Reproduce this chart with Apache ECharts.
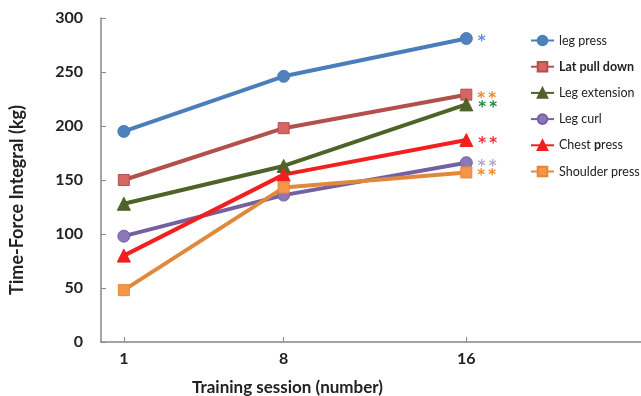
<!DOCTYPE html>
<html>
<head>
<meta charset="utf-8">
<script src="https://cdn.jsdelivr.net/npm/echarts@6/dist/echarts.min.js"></script>
<style>
  html, body { margin: 0; padding: 0; background: #fff; }
  #chart { width: 641px; height: 396px; }
</style>
</head>
<body>
<div id="chart"></div>
<script>
// training sessions on the x axis
var sessions = [1, 8, 16];
var yTicks = [0, 50, 100, 150, 200, 250, 300];

// time-force integral (kg) per exercise
var legPress = [195, 246, 281];
var latPullDown = [150, 198, 229];
var legExtension = [128, 163, 220];
var legCurl = [98, 136, 166];
var chestPress = [80, 155, 187];
var shoulderPress = [48, 143, 157];

// significance marks at session 16
var marks = ["*", "*\u2009*", "*\u2009*", "*\u2009*", "*\u2009*", "*\u2009*"];
var markColors = ["#5b8fd6", "#f08a2a", "#1e8c45", "#b3a6d6", "#e8323a", "#f08a2a"];

var names = ["leg press", "Lat pull down", "Leg extension", "Leg curl", "Chest press", "Shoulder press"];
var values = [legPress, latPullDown, legExtension, legCurl, chestPress, shoulderPress];
var lineColors = ["#4a7ebb", "#b2504d", "#4f6228", "#7460a0", "#f21f1f", "#e0883c"];
var markerColors = ["#4f81bd", "#d66663", "#4f6228", "#8c78b8", "#f21f1f", "#f79646"];
var symbols = ["circle", "rect", "triangle", "circle", "triangle", "rect"];
var sizes = [12, 11, 13, 12, 13, 11];

var series = names.map(function(name, i) {
  var data = values[i].map(function(v, j) {
    var item = { value: [sessions[j], v] };
    if (j == sessions.length - 1) {
      item.label = {
        show: true,
        position: "right",
        distance: 5,
        offset: [0, 4],
        formatter: marks[i],
        color: markColors[i],
        fontSize: 15,
        fontWeight: "bold",
        fontFamily: "DejaVu Sans"
      };
    }
    return item;
  });
  return {
    name: name,
    type: "line",
    data: data,
    symbol: symbols[i],
    symbolSize: sizes[i],
    showAllSymbol: true,
    lineStyle: { color: lineColors[i], width: 4 },
    itemStyle: {
      color: markerColors[i],
      borderColor: lineColors[i],
      borderWidth: 1,
      opacity: 1
    }
  };
});

var option = {
  animation: false,
  grid: {
    left: 101,
    right: 0,
    top: 18,
    bottom: 54,
    outerBoundsMode: "none"
  },
  legend: {
    orient: "vertical",
    left: 530,
    top: 34,
    padding: 0,
    itemWidth: 23,
    itemHeight: 12,
    itemGap: 13.2,
    data: names,
    textStyle: {
      fontFamily: "Lato",
      fontSize: 12.5,
      color: "#222",
      rich: {
        b: { fontFamily: "Lato", fontSize: 12.5, fontWeight: "bold", color: "#222" }
      }
    },
    formatter: function(name) {
      if (name == "Lat pull down") return "{b|Lat pull down}";
      if (name == "Chest press") return "Chest {b|p}ress";
      return name;
    }
  },
  xAxis: {
    type: "value",
    min: 0,
    max: 23.65,
    name: "Training session (number)",
    nameLocation: "middle",
    nameGap: 37,
    nameTextStyle: {
      fontFamily: "Lato",
      fontSize: 17,
      fontWeight: "bold",
      color: "#222",
      padding: [0, 167, 0, 0]
    },
    axisLine: { lineStyle: { color: "#868686", width: 1.5 } },
    axisTick: { inside: true, length: 5, customValues: sessions, lineStyle: { color: "#868686" } },
    axisLabel: {
      customValues: sessions,
      margin: 9,
      fontFamily: "Lato",
      fontSize: 16,
      fontWeight: "bold",
      color: "#222"
    },
    splitLine: { show: false }
  },
  yAxis: {
    type: "value",
    min: 0,
    max: 300,
    interval: 50,
    name: "Time-Force Integral (kg)",
    nameLocation: "middle",
    nameGap: 75,
    nameTextStyle: {
      fontFamily: "Lato",
      fontSize: 18,
      fontWeight: "bold",
      color: "#222",
      padding: [0, 40, 0, 0]
    },
    axisLine: { show: true, lineStyle: { color: "#868686", width: 1.5 } },
    axisTick: { show: true, inside: true, length: 5, lineStyle: { color: "#868686" } },
    axisLabel: {
      margin: 18,
      fontFamily: "Lato",
      fontSize: 16,
      fontWeight: "bold",
      color: "#222",
      formatter: function(v) { return yTicks.indexOf(v) >= 0 ? v : ""; }
    },
    splitLine: { show: false }
  },
  series: series
};

var myChart = echarts.init(document.getElementById("chart"));
myChart.setOption(option);
</script>
</body>
</html>
